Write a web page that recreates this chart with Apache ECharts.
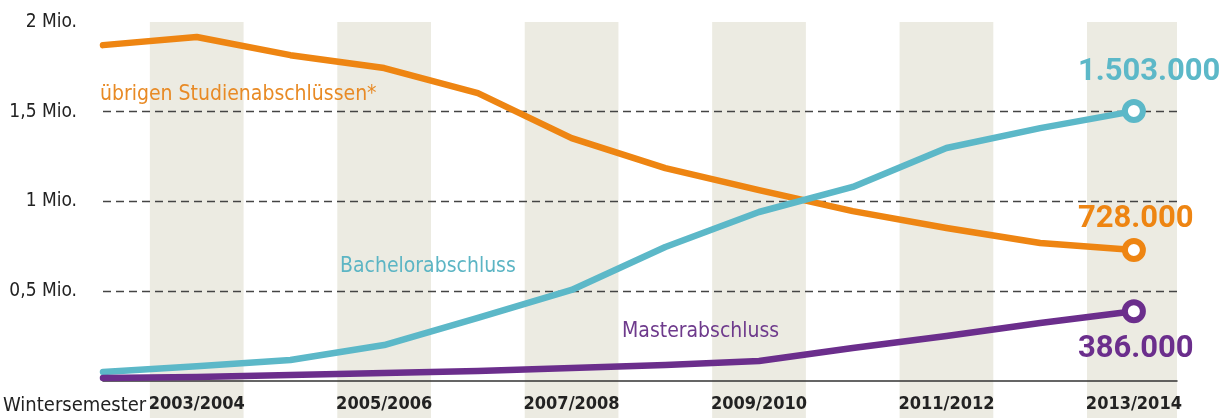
<!DOCTYPE html>
<html>
<head>
<meta charset="utf-8">
<script src="https://cdn.jsdelivr.net/npm/echarts@6/dist/echarts.min.js"></script>
<style>html,body{margin:0;padding:0;background:#fff;}#c{width:1230px;height:418px;}</style>
</head>
<body>
<div id="c"></div>
<script>
// Data (values in thousands)
var years = [2002, 2003, 2004, 2005, 2006, 2007, 2008, 2009, 2010, 2011, 2012, 2013];
var uebrige = [1871, 1916, 1815, 1743, 1603, 1352, 1185, 1062, 945, 851, 767, 728];
var bachelor = [47, 80, 114, 198, 349, 505, 745, 940, 1080, 1297, 1408, 1503];
var master = [14, 20, 31, 42, 53, 70, 86, 109, 181, 248, 321, 386];
var bandYears = [2003, 2005, 2007, 2009, 2011, 2013];
var yTicks = {500: '0,5 Mio.', 1000: '1 Mio.', 1500: '1,5 Mio.', 2000: '2 Mio.'};
var seriesNames = ['übrigen Studienabschlüssen*', 'Bachelorabschluss', 'Masterabschluss'];

var FONT = '"Liberation Sans Narrow", "DejaVu Sans Condensed", sans-serif';
var NUMFONT = 'Roboto, "DejaVu Sans", sans-serif';
var cOrange = '#ee8512', cCyan = '#5cb8c8', cPurple = '#6b2e8c';

function fmtThousands(v) {
  var s = String(Math.round(v * 1000));
  return s.replace(/\B(?=(\d{3})+(?!\d))/g, '.');
}

function buildData(vals, color, labelOffset) {
  var last = vals.length - 1;
  return vals.map(function (v, i) {
    var item = { value: [years[i], v] };
    if (i === last) {
      item.symbol = 'circle';
      item.symbolSize = 18;
      item.itemStyle = { color: '#fff', borderColor: color, borderWidth: 6 };
      item.label = {
        show: true, position: 'inside', align: 'left', verticalAlign: 'middle',
        offset: labelOffset, color: color, fontFamily: NUMFONT, fontWeight: 'bold',
        fontSize: 31, formatter: function (p) { return fmtThousands(p.value[1]); }
      };
    } else {
      item.symbol = 'none';
    }
    return item;
  });
}

function lineSeries(name, vals, color, labelOffset, z) {
  return {
    name: name, type: 'line', xAxisIndex: 0, yAxisIndex: 0, z: z,
    data: buildData(vals, color, labelOffset),
    showSymbol: true, showAllSymbol: true,
    lineStyle: { color: color, width: 6.5, cap: 'round', join: 'round' },
    itemStyle: { color: color },
    emphasis: { disabled: true }, animation: false
  };
}

var chart = echarts.init(document.getElementById('c'), null, { renderer: 'canvas' });
chart.setOption({
  animation: false,
  backgroundColor: '#ffffff',
  title: [
    { text: 'Wintersemester', left: 3, top: 396, textStyle: { fontFamily: FONT, fontSize: 20, fontWeight: 'normal', color: '#222' }, padding: 0 },
    { text: seriesNames[0], left: 100, top: 84, textStyle: { fontFamily: FONT, fontSize: 21, fontWeight: 'normal', color: '#e88a25' }, padding: 0 },
    { text: seriesNames[1], left: 340, top: 256, textStyle: { fontFamily: FONT, fontSize: 21, fontWeight: 'normal', color: '#5cb5c4' }, padding: 0 },
    { text: seriesNames[2], left: 622, top: 321, textStyle: { fontFamily: FONT, fontSize: 21, fontWeight: 'normal', color: '#6e3a8c' }, padding: 0 }
  ],
  grid: [
    { left: 103, right: 53, top: 22, bottom: 37.5, outerBoundsMode: 'none', containLabel: false },
    { left: 103, right: 53, top: 22, bottom: 0, outerBoundsMode: 'none', containLabel: false }
  ],
  xAxis: [
    {
      type: 'value', gridIndex: 0, min: 2002, max: 2013.46, interval: 1, z: 2,
      axisLine: { show: true, lineStyle: { color: '#333', width: 1.5 } },
      axisTick: { show: false },
      splitLine: { show: false },
      axisLabel: {
        show: true, margin: 15, fontFamily: FONT, fontSize: 18, fontWeight: 'bold', color: '#222',
        formatter: function (v) { return (bandYears.indexOf(v) >= 0) ? (v + '/' + (v + 1)) : ''; }
      }
    },
    { type: 'value', gridIndex: 1, min: 2002, max: 2013.46, show: false }
  ],
  yAxis: [
    {
      type: 'value', gridIndex: 0, min: 0, max: 2000, interval: 500, z: 2,
      axisLine: { show: false }, axisTick: { show: false },
      splitLine: { show: true, showMinLine: false, showMaxLine: false, lineStyle: { color: '#444', width: 1.4, type: [8, 5] } },
      axisLabel: {
        margin: 26, fontFamily: FONT, fontSize: 19, color: '#222',
        formatter: function (v) { return yTicks[v] || ''; }
      }
    },
    { type: 'value', gridIndex: 1, min: 0, max: 1, show: false }
  ],
  series: [
    {
      type: 'line', xAxisIndex: 1, yAxisIndex: 1, z: 0, silent: true, symbol: 'none',
      data: [[2002, 0]], lineStyle: { opacity: 0 },
      markArea: {
        silent: true, z: 0,
        itemStyle: { color: '#ecebe2' },
        data: bandYears.map(function (y) { return [{ xAxis: y - 0.5 }, { xAxis: y + 0.5 }]; })
      }
    },
    lineSeries(seriesNames[0], uebrige, cOrange, [-56, -31], 3),
    lineSeries(seriesNames[1], bachelor, cCyan, [-56, -39], 4),
    lineSeries(seriesNames[2], master, cPurple, [-56, 38], 5)
  ]
});
</script>
</body>
</html>
